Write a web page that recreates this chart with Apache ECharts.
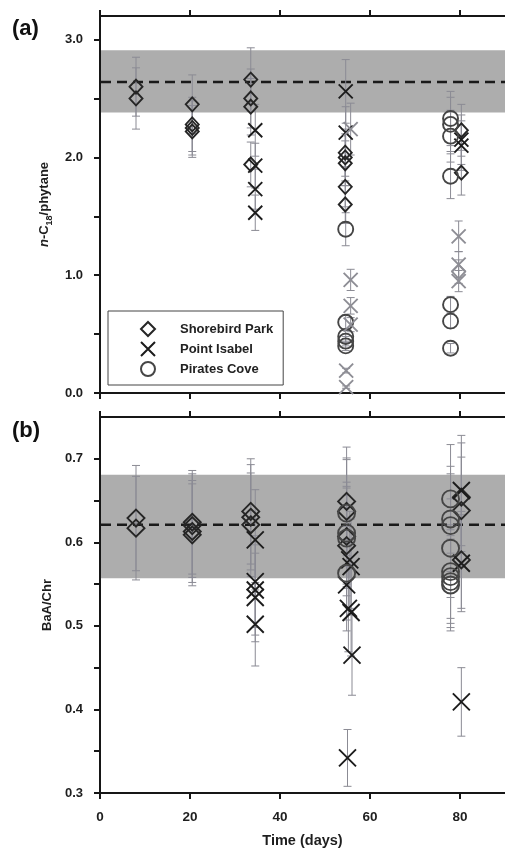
<!DOCTYPE html>
<html>
<head>
<meta charset="utf-8">
<script src="https://cdn.jsdelivr.net/npm/echarts@6/dist/echarts.min.js"></script>
<style>
  html, body { margin: 0; padding: 0; background: #fff; }
  #chart { width: 505px; height: 851px; }
</style>
</head>
<body>
<div id="chart"></div>
<script>
// Each point is [time (days), ratio, error]

// (a) n-C18/phytane
const shorebirdA = [
  [8, 2.60, 0.25], [8, 2.50, 0.26],
  [20.5, 2.45, 0.25], [20.5, 2.28, 0.23], [20.5, 2.25, 0.23], [20.5, 2.22, 0.22],
  [33.5, 2.66, 0.27], [33.5, 2.50, 0.25], [33.5, 2.43, 0.24], [33.5, 1.94, 0.19],
  [54.5, 2.04, 0.20], [54.5, 2.00, 0.20], [54.5, 1.95, 0.19], [54.5, 1.75, 0.17], [54.5, 1.60, 0.16],
  [80.3, 2.23, 0.22], [80.3, 1.87, 0.19]
];
const shorebirdFaintA = [[79.7, 1.03, 0.10]];
const isabelA = [
  [34.5, 2.23, 0.22], [34.5, 1.93, 0.19], [34.5, 1.73, 0.17], [34.5, 1.53, 0.15],
  [54.6, 2.56, 0.27], [54.6, 2.21, 0.22],
  [80.3, 2.15, 0.21], [80.3, 2.10, 0.21]
];
const isabelFaintA = [
  [55.7, 2.24, 0.22], [55.7, 0.96, 0.09], [55.7, 0.74, 0.07], [55.7, 0.58, 0.06],
  [54.7, 0.19, 0.02], [54.7, 0.05, 0.01],
  [79.7, 1.33, 0.13], [79.7, 1.09, 0.11], [79.7, 0.95, 0.09]
];
const piratesA = [
  [54.6, 1.39, 0.14], [54.6, 0.60, 0.06], [54.6, 0.48, 0.05], [54.6, 0.44, 0.04], [54.6, 0.40, 0.04],
  [77.9, 2.33, 0.23], [77.9, 2.28, 0.23], [77.9, 2.18, 0.22], [77.9, 1.84, 0.19],
  [77.9, 0.75, 0.07], [77.9, 0.61, 0.06], [77.9, 0.38, 0.04]
];
// reference band [low, high, mean]
const bandA = [2.38, 2.91, 2.64];

// (b) BaA/Chr
const shorebirdB = [
  [8, 0.629, 0.063], [8, 0.617, 0.062],
  [20.5, 0.624, 0.062], [20.5, 0.620, 0.062], [20.5, 0.613, 0.061], [20.5, 0.609, 0.061],
  [33.5, 0.637, 0.063], [33.5, 0.630, 0.063], [33.5, 0.621, 0.062],
  [54.8, 0.649, 0.065], [54.8, 0.637, 0.064], [54.8, 0.607, 0.060], [54.8, 0.596, 0.060],
  [80.3, 0.654, 0.065], [80.3, 0.638, 0.064], [80.3, 0.579, 0.058]
];
const isabelB = [
  [34.5, 0.603, 0.060], [34.5, 0.553, 0.055], [34.5, 0.543, 0.054], [34.5, 0.534, 0.053], [34.5, 0.502, 0.050],
  [55.5, 0.579, 0.058], [55.8, 0.571, 0.057], [54.8, 0.549, 0.055], [55.2, 0.521, 0.052],
  [55.8, 0.516, 0.052], [56.0, 0.465, 0.048], [55.0, 0.342, 0.034],
  [80.3, 0.662, 0.066], [80.3, 0.575, 0.058], [80.3, 0.409, 0.041]
];
const piratesB = [
  [54.8, 0.635, 0.064], [54.8, 0.611, 0.061], [54.8, 0.605, 0.060], [54.8, 0.563, 0.056],
  [77.9, 0.652, 0.065], [77.9, 0.628, 0.063], [77.9, 0.620, 0.062], [77.9, 0.593, 0.059],
  [77.9, 0.565, 0.056], [77.9, 0.559, 0.056], [77.9, 0.553, 0.055], [77.9, 0.549, 0.055]
];
const bandB = [0.557, 0.681, 0.621];

// axis ticks and labels
const xTicks = [0, 20, 40, 60, 80];
const yTicksA = [0, 0.5, 1, 1.5, 2, 2.5, 3];
const yLabelsA = [0, 1, 2, 3];
const yTicksB = [0.3, 0.35, 0.4, 0.45, 0.5, 0.55, 0.6, 0.65, 0.7];
const yLabelsB = [0.3, 0.4, 0.5, 0.6, 0.7];

const FONT = '"Liberation Sans", Arial, Helvetica, sans-serif';
const INK = '#161616';
const CROSS = 'path://M0,0L10,10M10,0L0,10';

function errorBars(params, api) {
  const x = api.value(0), y = api.value(1), e = api.value(2);
  const hi = api.coord([x, y + e]);
  const lo = api.coord([x, y - e]);
  const cap = 4;
  const st = { stroke: '#8b8b94', lineWidth: 1 };
  return {
    type: 'group',
    children: [
      { type: 'line', shape: { x1: hi[0], y1: hi[1], x2: lo[0], y2: lo[1] }, style: st },
      { type: 'line', shape: { x1: hi[0] - cap, y1: hi[1], x2: hi[0] + cap, y2: hi[1] }, style: st },
      { type: 'line', shape: { x1: lo[0] - cap, y1: lo[1], x2: lo[0] + cap, y2: lo[1] }, style: st }
    ]
  };
}

function band(params, api) {
  const cs = params.coordSys;
  const lo = api.coord([0, api.value(0)])[1];
  const hi = api.coord([0, api.value(1)])[1];
  const m = api.coord([0, api.value(2)])[1];
  return {
    type: 'group',
    children: [
      { type: 'rect', shape: { x: cs.x + 1, y: hi, width: cs.width, height: lo - hi }, style: { fill: '#adadad' } },
      { type: 'line', shape: { x1: cs.x + 1, y1: m, x2: cs.x + cs.width, y2: m },
        style: { stroke: '#1a1a1a', lineWidth: 2.5, lineDash: [10, 6] } }
    ]
  };
}

function xAxisCfg(grid, pos, withLabels) {
  const a = {
    gridIndex: grid, type: 'value', position: pos, min: 0, max: 90,
    axisLine: { show: true, onZero: false, lineStyle: { color: INK, width: 2 } },
    axisTick: { show: true, inside: false, customValues: xTicks, length: 6, lineStyle: { color: INK, width: 2 } },
    axisLabel: { show: false },
    splitLine: { show: false }
  };
  if (withLabels) {
    a.axisLabel = {
      show: true, customValues: xTicks, margin: 17,
      fontFamily: FONT, fontWeight: 'bold', fontSize: 13.5, color: '#1e1e1e'
    };
    a.name = 'Time (days)';
    a.nameLocation = 'middle';
    a.nameGap = 40;
    a.nameTextStyle = { fontFamily: FONT, fontWeight: 'bold', fontSize: 14.5, color: '#1e1e1e' };
  }
  return a;
}

function yAxisCfg(grid, min, max, ticks, labels, name, rich) {
  return {
    gridIndex: grid, type: 'value', min: min, max: max,
    axisLine: { show: true, lineStyle: { color: INK, width: 2 } },
    axisTick: { show: true, inside: false, customValues: ticks, length: 6, lineStyle: { color: INK, width: 2 } },
    axisLabel: {
      customValues: labels, margin: 17, formatter: v => v.toFixed(1),
      fontFamily: FONT, fontWeight: 'bold', fontSize: 13, color: '#1e1e1e'
    },
    splitLine: { show: false },
    name: name, nameLocation: 'middle', nameRotate: 90, nameGap: 46,
    nameTextStyle: Object.assign({ fontFamily: FONT, fontWeight: 'bold', fontSize: 13, color: '#1e1e1e' }, rich ? { rich: rich, lineHeight: 20 } : {})
  };
}

function markerSeries(name, data, symbol, size, color, xi, yi) {
  return {
    type: 'scatter', name: name, data: data, xAxisIndex: xi, yAxisIndex: yi,
    symbol: symbol, symbolSize: size, z: 4, silent: true,
    itemStyle: { color: 'rgba(0,0,0,0)', borderColor: color, borderWidth: 1.9, opacity: 1 }
  };
}

const allA = [].concat(shorebirdA, shorebirdFaintA, isabelA, isabelFaintA, piratesA);
const allB = [].concat(shorebirdB, isabelB, piratesB);

const DIAMOND_INK = '#262626', CROSS_INK = '#1c1c1c', CIRCLE_INK = '#454545', FAINT = '#8e8e95';

const option = {
  animation: false,
  backgroundColor: '#fff',
  grid: [
    { left: 100, right: -4, top: 16, height: 377 },
    { left: 100, right: -4, top: 417, height: 376 }
  ],
  xAxis: [
    xAxisCfg(0, 'bottom', false),
    xAxisCfg(0, 'top', false),
    xAxisCfg(1, 'bottom', true),
    xAxisCfg(1, 'top', false)
  ],
  yAxis: [
    yAxisCfg(0, 0, 3.2, yTicksA, yLabelsA, '{i|n}-C{s|18}/phytane', {
      i: { fontFamily: FONT, fontStyle: 'italic', fontWeight: 'bold', fontSize: 13, color: '#1e1e1e' },
      s: { fontFamily: FONT, fontWeight: 'bold', fontSize: 9, color: '#1e1e1e', verticalAlign: 'bottom', lineHeight: 8 }
    }),
    yAxisCfg(1, 0.3, 0.75, yTicksB, yLabelsB, 'BaA/Chr', null)
  ],
  legend: {
    data: ['Shorebird Park', 'Point Isabel', 'Pirates Cove'],
    orient: 'vertical', left: 108, top: 311,
    padding: [10, 10, 8, 32], itemGap: 4, itemWidth: 14, itemHeight: 14,
    borderColor: '#444', borderWidth: 1, selectedMode: false,
    textStyle: { fontFamily: FONT, fontWeight: 'bold', fontSize: 13, lineHeight: 15, color: '#222', padding: [0, 0, 0, 20] }
  },
  graphic: [
    { type: 'text', left: 12, top: 18, style: { text: '(a)', font: 'bold 22px ' + FONT, fill: '#111' } },
    { type: 'text', left: 12, top: 420, style: { text: '(b)', font: 'bold 22px ' + FONT, fill: '#111' } }
  ],
  series: [
    { type: 'custom', xAxisIndex: 0, yAxisIndex: 0, z: 1, silent: true, renderItem: band, data: [bandA] },
    { type: 'custom', xAxisIndex: 2, yAxisIndex: 1, z: 1, silent: true, renderItem: band, data: [bandB] },
    { type: 'custom', xAxisIndex: 0, yAxisIndex: 0, z: 2, silent: true, renderItem: errorBars, data: allA },
    { type: 'custom', xAxisIndex: 2, yAxisIndex: 1, z: 2, silent: true, renderItem: errorBars, data: allB },

    markerSeries('Shorebird Park', shorebirdA, 'diamond', [13, 14], DIAMOND_INK, 0, 0),
    markerSeries('Point Isabel', isabelA, CROSS, 14, CROSS_INK, 0, 0),
    markerSeries('Pirates Cove', piratesA, 'circle', 15, CIRCLE_INK, 0, 0),
    markerSeries('Shorebird Park faint', shorebirdFaintA, 'diamond', [13, 14], FAINT, 0, 0),
    markerSeries('Point Isabel faint', isabelFaintA, CROSS, 14, FAINT, 0, 0),

    markerSeries('Shorebird Park', shorebirdB, 'diamond', [17, 17], DIAMOND_INK, 2, 1),
    markerSeries('Point Isabel', isabelB, CROSS, 17, CROSS_INK, 2, 1),
    markerSeries('Pirates Cove', piratesB, 'circle', 17, CIRCLE_INK, 2, 1)
  ]
};

const chart = echarts.init(document.getElementById('chart'), null, { renderer: 'canvas' });
chart.setOption(option);
</script>
</body>
</html>
